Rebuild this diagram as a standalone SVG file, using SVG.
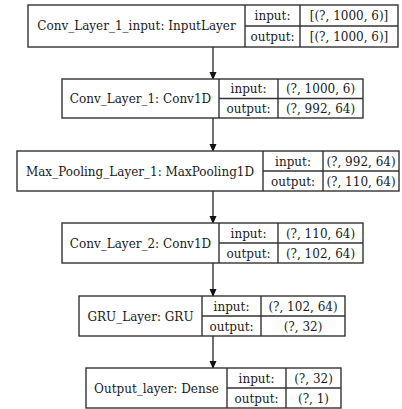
<svg xmlns="http://www.w3.org/2000/svg" width="402" height="409" viewBox="0 0 402 409">
<style>
rect.b{fill:#fff;stroke:#333;stroke-width:1.4}
line.d{stroke:#333;stroke-width:1.4}
text{font-family:"DejaVu Serif","Liberation Serif",serif;font-size:12px;fill:#1a1a1a;text-anchor:middle}
.c line{stroke:#111;stroke-width:1.2}
</style>
<defs>
<marker id="ah" markerWidth="8" markerHeight="8" refX="7" refY="4" orient="auto" markerUnits="userSpaceOnUse">
<path d="M0,0.5 L8,4 L0,7.5 Z" fill="#111"/>
</marker>
</defs>
<rect width="402" height="409" fill="#fff"/>
<g class="c" id="connectors">
<line x1="213" y1="47" x2="213" y2="79" marker-end="url(#ah)"/>
<line x1="213" y1="118" x2="213" y2="151" marker-end="url(#ah)"/>
<line x1="213" y1="191" x2="213" y2="223" marker-end="url(#ah)"/>
<line x1="213" y1="263" x2="213" y2="296" marker-end="url(#ah)"/>
<line x1="213" y1="336" x2="213" y2="368" marker-end="url(#ah)"/>
</g>
<g id="n1">
<rect class="b" x="28" y="5" width="370" height="42"/>
<line class="d" x1="245" y1="5" x2="245" y2="47"/>
<line class="d" x1="300" y1="5" x2="300" y2="47"/>
<line class="d" x1="245" y1="26" x2="398" y2="26"/>
<text x="136.5" y="30">Conv_Layer_1_input: InputLayer</text>
<text x="272.5" y="20">input:</text>
<text x="272.5" y="40.5">output:</text>
<text x="349" y="20">[(?, 1000, 6)]</text>
<text x="349" y="40.5">[(?, 1000, 6)]</text>
</g>
<g id="n2">
<rect class="b" x="62" y="79" width="301" height="39"/>
<line class="d" x1="219" y1="79" x2="219" y2="118"/>
<line class="d" x1="278" y1="79" x2="278" y2="118"/>
<line class="d" x1="219" y1="98.5" x2="363" y2="98.5"/>
<text x="140.5" y="102.5">Conv_Layer_1: Conv1D</text>
<text x="248.5" y="93">input:</text>
<text x="248.5" y="112.5">output:</text>
<text x="320.5" y="93">(?, 1000, 6)</text>
<text x="320.5" y="112.5">(?, 992, 64)</text>
</g>
<g id="n3">
<rect class="b" x="17" y="151" width="382" height="40"/>
<line class="d" x1="263" y1="151" x2="263" y2="191"/>
<line class="d" x1="323" y1="151" x2="323" y2="191"/>
<line class="d" x1="263" y1="171" x2="399" y2="171"/>
<text x="140" y="175.5">Max_Pooling_Layer_1: MaxPooling1D</text>
<text x="293" y="165.5">input:</text>
<text x="293" y="185.5">output:</text>
<text x="361" y="165.5">(?, 992, 64)</text>
<text x="361" y="185.5">(?, 110, 64)</text>
</g>
<g id="n4">
<rect class="b" x="62" y="223" width="301" height="40"/>
<line class="d" x1="219" y1="223" x2="219" y2="263"/>
<line class="d" x1="278" y1="223" x2="278" y2="263"/>
<line class="d" x1="219" y1="243" x2="363" y2="243"/>
<text x="140.5" y="247.5">Conv_Layer_2: Conv1D</text>
<text x="248.5" y="237.5">input:</text>
<text x="248.5" y="257.5">output:</text>
<text x="320.5" y="237.5">(?, 110, 64)</text>
<text x="320.5" y="257.5">(?, 102, 64)</text>
</g>
<g id="n5">
<rect class="b" x="79" y="296" width="266" height="40"/>
<line class="d" x1="202" y1="296" x2="202" y2="336"/>
<line class="d" x1="261" y1="296" x2="261" y2="336"/>
<line class="d" x1="202" y1="316" x2="345" y2="316"/>
<text x="140.5" y="320.5">GRU_Layer: GRU</text>
<text x="231.5" y="310.5">input:</text>
<text x="231.5" y="330.5">output:</text>
<text x="303" y="310.5">(?, 102, 64)</text>
<text x="303" y="330.5">(?, 32)</text>
</g>
<g id="n6">
<rect class="b" x="86" y="368" width="255" height="40"/>
<line class="d" x1="227" y1="368" x2="227" y2="408"/>
<line class="d" x1="286" y1="368" x2="286" y2="408"/>
<line class="d" x1="227" y1="388" x2="341" y2="388"/>
<text x="156.5" y="392.5">Output_layer: Dense</text>
<text x="256.5" y="382.5">input:</text>
<text x="256.5" y="402.5">output:</text>
<text x="313.5" y="382.5">(?, 32)</text>
<text x="313.5" y="402.5">(?, 1)</text>
</g>
</svg>
